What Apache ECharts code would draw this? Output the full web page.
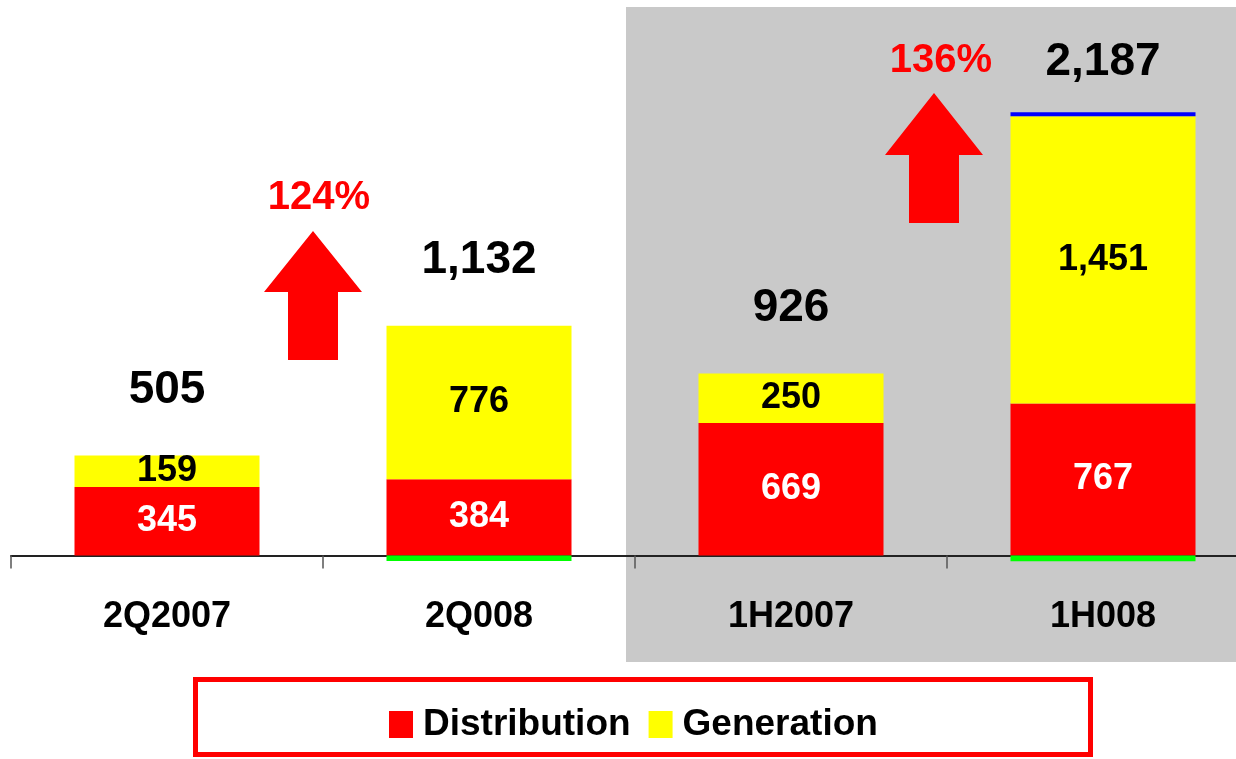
<!DOCTYPE html>
<html>
<head>
<meta charset="utf-8">
<script src="https://cdn.jsdelivr.net/npm/echarts@6/dist/echarts.min.js"></script>
<style>
  html, body { margin: 0; padding: 0; background: #fff; }
  #main { width: 1236px; height: 759px; }
</style>
</head>
<body>
<div id="main"></div>
<script>
// chart data
const categories = ['2Q2007', '2Q008', '1H2007', '1H008'];
const distribution = [345, 384, 669, 767];
const generation = [159, 776, 250, 1451];
const otherTop = ['-', '-', '-', 20];      // thin blue strip on 1H008
const otherBelow = ['-', -28, '-', -30];   // thin green strip below the axis
const totals = [505, 1132, 926, 2187];
const growthLabels = ['124%', '136%'];

const font = '"Liberation Sans", Arial, sans-serif';

function fmt(v) {
    return String(v).replace(/\B(?=(\d{3})+(?!\d))/g, ',');
}

// top of the positive stack, used to hang the total labels
const stackTop = categories.map((c, i) =>
    distribution[i] + generation[i] + (otherTop[i] === '-' ? 0 : otherTop[i]));
const totalGap = [42, 42, 42, 26];

const chart = echarts.init(document.getElementById('main'));

const option = {
    backgroundColor: '#ffffff',
    animation: false,
    grid: { left: 11, right: -23, top: 1, bottom: 164, outerBoundsMode: 'none', containLabel: false },
    legend: {
        data: ['Distribution', 'Generation'],
        left: 384,
        top: 701,
        itemWidth: 24,
        itemHeight: 27,
        itemGap: 18,
        icon: 'rect',
        textStyle: { fontFamily: font, fontWeight: 'bold', fontSize: 37, color: '#000', padding: [0, 0, 0, 5] }
    },
    xAxis: {
        type: 'category',
        data: categories,
        axisLine: { onZero: true, lineStyle: { color: '#222', width: 2 } },
        axisTick: { show: true, length: 13, lineStyle: { color: '#555', width: 1.5 } },
        axisLabel: { margin: 4, fontFamily: font, fontWeight: 'bold', fontSize: 36, color: '#000' }
    },
    yAxis: {
        type: 'value',
        min: -200,
        max: 2800,
        show: false,
        splitLine: { show: false }
    },
    graphic: [
        {
            type: 'rect', z: -10,
            shape: { x: 626, y: 7, width: 620, height: 655 },
            style: { fill: '#c9c9c9' }
        },
        {
            type: 'rect', z: 10,
            shape: { x: 195.5, y: 679.5, width: 895, height: 75 },
            style: { fill: 'none', stroke: '#ff0000', lineWidth: 5 }
        },
        {
            type: 'polygon', z: 10,
            shape: { points: [[313, 231], [362, 292], [338, 292], [338, 360], [288, 360], [288, 292], [264, 292]] },
            style: { fill: '#ff0000' }
        },
        {
            type: 'polygon', z: 10,
            shape: { points: [[934, 93], [983, 155], [959, 155], [959, 223], [909, 223], [909, 155], [885, 155]] },
            style: { fill: '#ff0000' }
        },
        {
            type: 'text', z: 10, x: 319, y: 198,
            style: { text: growthLabels[0], fill: '#ff0000', font: 'bold 40px ' + font, align: 'center', verticalAlign: 'middle' }
        },
        {
            type: 'text', z: 10, x: 941, y: 61,
            style: { text: growthLabels[1], fill: '#ff0000', font: 'bold 40px ' + font, align: 'center', verticalAlign: 'middle' }
        }
    ],
    series: [
        {
            name: 'Distribution',
            type: 'bar',
            stack: 'total',
            barWidth: 185,
            data: distribution,
            itemStyle: { color: '#ff0000' },
            label: {
                show: true, position: 'inside',
                fontFamily: font, fontWeight: 'bold', fontSize: 36, color: '#fff',
                formatter: p => fmt(p.value)
            }
        },
        {
            name: 'Generation',
            type: 'bar',
            stack: 'total',
            data: generation,
            itemStyle: { color: '#ffff00' },
            label: {
                show: true, position: 'inside',
                fontFamily: font, fontWeight: 'bold', fontSize: 36, color: '#000',
                formatter: p => fmt(p.value)
            }
        },
        {
            name: 'Other',
            type: 'bar',
            stack: 'total',
            data: otherTop,
            itemStyle: { color: '#0000ff' }
        },
        {
            name: 'Adjustment',
            type: 'bar',
            stack: 'total',
            data: otherBelow,
            itemStyle: { color: '#00ff00' }
        },
        {
            name: 'Total',
            type: 'scatter',
            symbolSize: 1,
            itemStyle: { color: 'rgba(0,0,0,0)', opacity: 1 },
            data: stackTop.map((v, i) => ({
                value: v,
                label: { distance: totalGap[i] }
            })),
            label: {
                show: true, position: 'top',
                fontFamily: font, fontWeight: 'bold', fontSize: 46, color: '#000',
                formatter: p => fmt(totals[p.dataIndex])
            }
        }
    ]
};

chart.setOption(option);
</script>
</body>
</html>
